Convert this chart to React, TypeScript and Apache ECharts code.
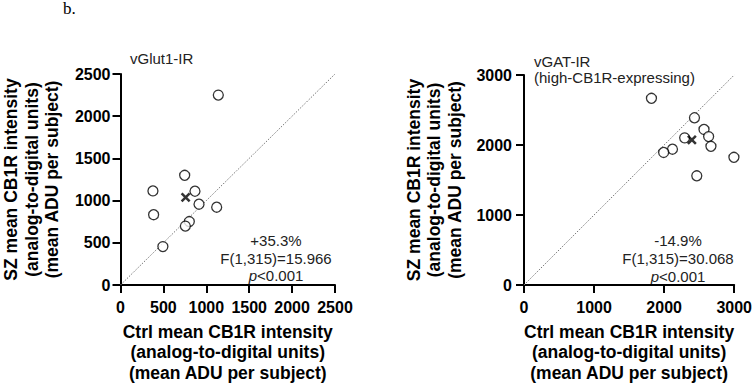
import React, { useEffect, useRef } from "react";
import * as echarts from "echarts";

// Left panel: vGlut1-IR
const vglutCtrl = [1140, 748, 378, 868, 915, 1121, 386, 802, 756, 494];
const vglutSz = [2250, 1300, 1115, 1111, 957, 922, 833, 752, 698, 455];
const vglutMean = [759, 1038];
const vglutMax = 2500;
const vglutStep = 500;

// Right panel: vGAT-IR (high-CB1R-expressing)
const vgatCtrl = [1819, 2433, 2569, 2293, 2635, 2668, 2119, 1993, 2996, 2466];
const vgatSz = [2667, 2389, 2222, 2102, 2120, 1981, 1940, 1894, 1824, 1560];
const vgatMean = [2396, 2074];
const vgatMax = 3000;
const vgatStep = 1000;

const xTitle = "Ctrl mean CB1R intensity\n(analog-to-digital units)\n(mean ADU per subject)";
const yTitle = "SZ mean CB1R intensity\n(analog-to-digital units)\n(mean ADU per subject)";
const leftNote = "+35.3%\nF(1,315)=15.966\n{i|p}<0.001";
const rightNote = "-14.9%\nF(1,315)=30.068\n{i|p}<0.001";

const FONT = "Liberation Sans";

function axisCommon(max: number, step: number, isY: boolean, labelMargin: number, name: string, nameGap: number) {
  return {
    type: "value",
    min: 0,
    max,
    interval: step,
    splitLine: { show: false },
    axisLine: { show: true, onZero: false, lineStyle: { color: "#000", width: 2 } },
    axisTick: { show: true, inside: false, length: 8, lineStyle: { color: "#000", width: 2 } },
    axisLabel: {
      show: true,
      margin: labelMargin,
      formatter: (v: number) => String(v),
      color: "#000",
      fontFamily: FONT,
      fontWeight: "bold",
      fontSize: 16,
    },
    name,
    nameLocation: "middle",
    nameGap,
    nameRotate: isY ? 90 : 0,
    nameTextStyle: {
      color: "#000",
      fontFamily: FONT,
      fontWeight: "bold",
      fontSize: 17.5,
      lineHeight: 20.5,
      align: "center",
    },
  };
}

export default function App() {
  const ref = useRef<HTMLDivElement>(null);

  useEffect(() => {
    document.body.style.margin = "0";
    if (!ref.current) return;
    const chart = echarts.init(ref.current, undefined, { renderer: "svg" });

    const pts = (xs: number[], ys: number[]) => xs.map((x, i) => [x, ys[i]]);
    const circleStyle = { color: "#fff", borderColor: "#000", borderWidth: 1.3 };
    const crossSymbol = "path://M0,0L10,10M10,0L0,10";

    const option: any = {
      animation: false,
      backgroundColor: "#fff",
      textStyle: { fontFamily: FONT },
      grid: [
        { left: 120, top: 74, width: 215, height: 216, containLabel: false },
        { left: 524, top: 75, width: 213, height: 216, containLabel: false },
      ],
      xAxis: [
        { gridIndex: 0, ...axisCommon(vglutMax, vglutStep, false, 14, xTitle, 36.5) },
        { gridIndex: 1, ...axisCommon(vgatMax, vgatStep, false, 14, xTitle, 36.5) },
      ],
      yAxis: [
        { gridIndex: 0, ...axisCommon(vglutMax, vglutStep, true, 10, yTitle, 58) },
        { gridIndex: 1, ...axisCommon(vgatMax, vgatStep, true, 12, yTitle, 59) },
      ],
      series: [
        {
          type: "line",
          xAxisIndex: 0,
          yAxisIndex: 0,
          data: [[0, 0], [vglutMax, vglutMax]],
          symbol: "none",
          lineStyle: { color: "#777", width: 1, type: [1.5, 1.5] },
          z: 1,
        },
        {
          type: "scatter",
          xAxisIndex: 0,
          yAxisIndex: 0,
          data: pts(vglutCtrl, vglutSz),
          symbol: "circle",
          symbolSize: 10,
          itemStyle: circleStyle,
          z: 3,
        },
        {
          type: "scatter",
          xAxisIndex: 0,
          yAxisIndex: 0,
          data: [vglutMean],
          symbol: crossSymbol,
          symbolSize: 8,
          itemStyle: { color: "#000", borderColor: "#000", borderWidth: 2.5 },
          z: 4,
        },
        {
          type: "line",
          xAxisIndex: 1,
          yAxisIndex: 1,
          data: [[0, 0], [vgatMax, vgatMax]],
          symbol: "none",
          lineStyle: { color: "#777", width: 1, type: [1.5, 1.5] },
          z: 1,
        },
        {
          type: "scatter",
          xAxisIndex: 1,
          yAxisIndex: 1,
          data: pts(vgatCtrl, vgatSz),
          symbol: "circle",
          symbolSize: 10,
          itemStyle: circleStyle,
          z: 3,
        },
        {
          type: "scatter",
          xAxisIndex: 1,
          yAxisIndex: 1,
          data: [vgatMean],
          symbol: crossSymbol,
          symbolSize: 8,
          itemStyle: { color: "#000", borderColor: "#000", borderWidth: 2.5 },
          z: 4,
        },
      ],
      graphic: [
        {
          type: "text",
          left: 63,
          top: 0,
          style: { text: "b.", fontFamily: "Liberation Serif", fontSize: 17, fill: "#000" },
        },
        {
          type: "text",
          x: 130,
          y: 58,
          style: { text: "vGlut1-IR", fontFamily: FONT, fontSize: 15, fill: "#222", verticalAlign: "middle", align: "left" },
        },
        {
          type: "text",
          x: 534,
          y: 69.5,
          style: {
            text: "vGAT-IR\n(high-CB1R-expressing)",
            fontFamily: FONT,
            fontSize: 15,
            lineHeight: 15.5,
            fill: "#222",
            verticalAlign: "middle",
            align: "left",
          },
        },
        {
          type: "text",
          x: 276,
          y: 258,
          style: {
            text: leftNote,
            fontFamily: FONT,
            fontSize: 15,
            lineHeight: 17.8,
            fill: "#222",
            align: "center",
            verticalAlign: "middle",
            rich: { i: { fontStyle: "italic", fontFamily: FONT, fontSize: 15, lineHeight: 17.8, fill: "#222" } },
          },
        },
        {
          type: "text",
          x: 678,
          y: 258.5,
          style: {
            text: rightNote,
            fontFamily: FONT,
            fontSize: 15,
            lineHeight: 17.8,
            fill: "#222",
            align: "center",
            verticalAlign: "middle",
            rich: { i: { fontStyle: "italic", fontFamily: FONT, fontSize: 15, lineHeight: 17.8, fill: "#222" } },
          },
        },
      ],
    };

    chart.setOption(option);
    return () => chart.dispose();
  }, []);

  return <div ref={ref} style={{ width: 755, height: 388 }} />;
}
